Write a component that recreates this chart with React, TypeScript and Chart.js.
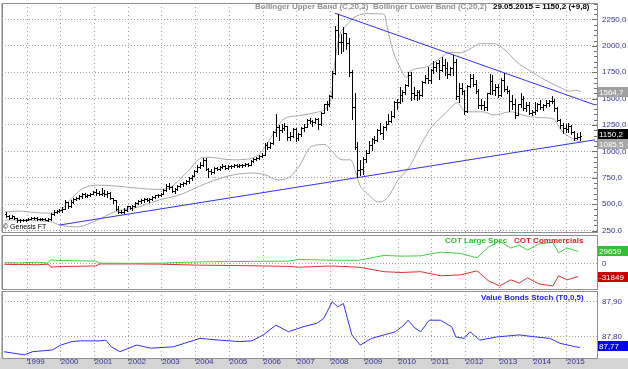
import React, { useEffect, useRef } from "react";
import { Chart, registerables } from "chart.js";

Chart.register(...registerables);

const FONT = "'Liberation Sans', Arial, sans-serif";
const AXIS_COLOR = "#333399";
const GRID_COLOR = "#a0a0a0";

// months counted from Jan 1999 = 0; first bar is May 1998
const START = -8;

const open = [
  405, 385, 370, 385, 365, 345, 350, 348,
  352, 362, 365, 370, 355, 355, 360, 350, 355, 410, 430, 435,
  440, 455, 520, 480, 525, 550, 560, 580, 595, 580, 590, 600,
  615, 605, 600, 610, 600, 610, 555, 535, 455, 430, 425, 440,
  478, 465, 480, 515, 530, 535, 545, 540, 545, 565, 585, 590,
  598, 630, 675, 660, 625, 640, 670, 690, 700, 720, 745, 770,
  810, 855, 870, 915, 830, 815, 800, 840, 830, 850, 860, 845,
  860, 865, 870, 865, 870, 875, 880, 875, 905, 930, 935, 955,
  970, 1065, 1040, 1075, 1180, 1230, 1200, 1225, 1240, 1135, 1150, 1210,
  1125, 1160, 1220, 1235, 1295, 1290, 1275, 1310, 1260, 1365, 1445, 1450,
  1525, 1740, 2150, 2040, 2035, 2120, 2030, 1750, 1420, 1040, 820, 830,
  930, 985, 1060, 1115, 1105, 1200, 1175, 1235, 1260, 1290, 1335, 1470,
  1465, 1530, 1560, 1630, 1720, 1550, 1530, 1560, 1530, 1660, 1700, 1680,
  1770, 1800, 1840, 1770, 1820, 1790, 1730, 1790, 1850, 1520, 1600, 1570,
  1380, 1620, 1700, 1640, 1570, 1440, 1440, 1420, 1550, 1670, 1580, 1610,
  1530, 1680, 1590, 1575, 1480, 1450, 1340, 1445, 1500, 1410, 1440, 1365,
  1370, 1390, 1445, 1420, 1440, 1460, 1475, 1475, 1410, 1300, 1250, 1220,
  1210, 1240, 1185, 1130, 1140.4,
];
const high = [
  425, 395, 395, 390, 370, 360, 360, 360,
  370, 375, 380, 375, 365, 370, 365, 365, 420, 440, 445, 450,
  470, 540, 525, 535, 560, 570, 590, 605, 610, 600, 610, 625,
  640, 625, 655, 630, 625, 615, 560, 540, 480, 445, 460, 485,
  485, 490, 525, 540, 545, 555, 560, 555, 575, 590, 600, 605,
  640, 690, 705, 670, 650, 680, 700, 710, 730, 755, 780, 820,
  870, 900, 935, 940, 845, 830, 850, 855, 865, 880, 870, 870,
  875, 880, 885, 880, 885, 890, 890, 920, 940, 945, 965, 985,
  1075, 1085, 1090, 1190, 1350, 1250, 1255, 1270, 1245, 1180, 1220, 1225,
  1175, 1230, 1260, 1305, 1320, 1300, 1320, 1320, 1375, 1450, 1475, 1535,
  1760, 2190, 2300, 2110, 2180, 2125, 2075, 1775, 1555, 1090, 920, 950,
  1010, 1100, 1130, 1150, 1210, 1270, 1245, 1290, 1350, 1380, 1480, 1495,
  1610, 1580, 1640, 1750, 1750, 1610, 1580, 1580, 1665, 1720, 1800, 1785,
  1860, 1850, 1870, 1890, 1880, 1845, 1800, 1915, 1880, 1650, 1650, 1580,
  1630, 1735, 1730, 1680, 1590, 1500, 1480, 1555, 1730, 1720, 1640, 1635,
  1700, 1740, 1620, 1580, 1530, 1500, 1450, 1550, 1525, 1470, 1470, 1390,
  1470, 1455, 1485, 1450, 1490, 1490, 1520, 1500, 1420, 1305, 1270, 1260,
  1270, 1250, 1190, 1175, 1185,
];
const low = [
  378, 360, 365, 355, 335, 335, 340, 340,
  345, 355, 358, 350, 345, 350, 345, 340, 350, 400, 420, 425,
  425, 450, 465, 475, 510, 540, 550, 560, 570, 565, 580, 595,
  590, 585, 590, 580, 570, 545, 510, 445, 420, 415, 420, 435,
  455, 445, 475, 505, 515, 525, 530, 525, 540, 560, 570, 575,
  595, 620, 640, 615, 610, 630, 660, 675, 690, 705, 730, 765,
  805, 840, 860, 820, 760, 790, 795, 820, 820, 840, 830, 835,
  845, 850, 855, 850, 855, 860, 860, 870, 895, 915, 925, 945,
  965, 1020, 1030, 1070, 1150, 1110, 1180, 1200, 1110, 1105, 1140, 1100,
  1105, 1150, 1190, 1230, 1270, 1240, 1270, 1210, 1250, 1360, 1390, 1430,
  1510, 1735, 1920, 1930, 1955, 1970, 1710, 1305, 1020, 760, 780, 790,
  900, 980, 1015, 1080, 1100, 1160, 1115, 1200, 1255, 1280, 1330, 1400,
  1460, 1480, 1545, 1620, 1490, 1500, 1490, 1500, 1520, 1650, 1650, 1650,
  1740, 1760, 1690, 1760, 1720, 1700, 1720, 1720, 1500, 1470, 1540, 1350,
  1375, 1610, 1615, 1550, 1415, 1405, 1390, 1390, 1540, 1545, 1530, 1515,
  1525, 1570, 1550, 1380, 1400, 1320, 1340, 1420, 1390, 1380, 1355, 1340,
  1355, 1385, 1405, 1390, 1420, 1430, 1460, 1385, 1290, 1220, 1175, 1180,
  1180, 1160, 1110, 1120, 1105,
];
const close = [
  385, 370, 385, 365, 345, 350, 348, 352,
  362, 365, 370, 355, 355, 360, 350, 355, 410, 430, 435, 440,
  455, 520, 480, 525, 550, 560, 580, 595, 580, 590, 600, 615,
  605, 600, 610, 600, 610, 555, 535, 455, 430, 425, 440, 478,
  465, 480, 515, 530, 535, 545, 540, 545, 565, 585, 590, 598,
  630, 675, 660, 625, 640, 670, 690, 700, 720, 745, 770, 810,
  855, 870, 915, 830, 815, 800, 840, 830, 850, 860, 845, 860,
  865, 870, 865, 870, 875, 880, 875, 905, 930, 935, 955, 970,
  1065, 1040, 1075, 1180, 1230, 1200, 1225, 1240, 1135, 1150, 1210, 1125,
  1160, 1220, 1235, 1295, 1290, 1275, 1310, 1260, 1365, 1445, 1450, 1525,
  1740, 2150, 2040, 2035, 2120, 2030, 1750, 1420, 1040, 820, 830, 930,
  985, 1060, 1115, 1105, 1200, 1175, 1235, 1260, 1290, 1335, 1470, 1465,
  1530, 1560, 1630, 1720, 1550, 1530, 1560, 1530, 1660, 1700, 1680, 1770,
  1800, 1840, 1770, 1820, 1790, 1730, 1790, 1850, 1520, 1600, 1570, 1380,
  1620, 1700, 1640, 1570, 1440, 1440, 1420, 1550, 1670, 1580, 1610, 1530,
  1680, 1590, 1575, 1480, 1450, 1340, 1445, 1500, 1410, 1440, 1365, 1370,
  1390, 1445, 1420, 1440, 1460, 1475, 1475, 1410, 1300, 1250, 1220, 1210,
  1240, 1185, 1130, 1140.4, 1150.2,
];

// Bollinger bands, x in months from Jan 1999
const upperX = [-8, -3, 3, 8, 12, 16, 20, 25, 30, 38, 46, 50, 57, 62, 64, 73, 78, 83, 88, 91, 97, 103, 108, 109, 111, 113, 117, 122, 127, 128, 130, 133, 135, 136, 142, 147, 150, 154, 158, 161, 166, 170, 174, 179, 184, 190, 193, 195, 197];
const upperY = [425, 435, 420, 415, 445, 560, 650, 680, 675, 655, 640, 650, 805, 940, 945, 920, 925, 985, 1185, 1300, 1340, 1370, 1490, 1745, 2090, 2175, 2280, 2305, 2300, 2185, 1965, 1775, 1700, 1755, 1800, 1885, 1935, 1935, 1980, 2020, 2020, 1960, 1850, 1760, 1680, 1600, 1570, 1580, 1564.7];
const lowerX = [-8, 8, 12, 18, 25, 31, 40, 47, 54, 64, 73, 80, 85, 89, 93, 97, 101, 106, 108, 112, 115, 117, 118, 121, 125, 128, 132, 136, 141, 144, 149, 153, 156, 162, 166, 172, 176, 182, 187, 190, 194, 197];
const lowerY = [350, 335, 300, 285, 350, 425, 475, 540, 585, 700, 775, 795, 775, 730, 750, 870, 1045, 1065, 1015, 920, 920, 795, 700, 600, 520, 555, 730, 855, 1110, 1235, 1365, 1460, 1375, 1375, 1345, 1375, 1345, 1320, 1310, 1200, 1120, 1085.5];

// trend lines
const upperTrendX = [109.5, 202];
const upperTrendY = [2310, 1440];
const lowerTrendX = [11.5, 202];
const lowerTrendY = [302, 1110];

// COT panel
const cotX = [-8, -3, 4, 7.5, 8.5, 10, 15, 24.5, 26, 37, 47, 61, 76, 93, 97, 108, 118, 127, 133, 140, 147, 154, 160, 164, 168, 172, 175, 178, 182, 187, 189, 192, 196];
const cotLargeSpec = [2000, 1500, 3000, 1000, 9000, 8000, 7000, 6000, 1000, 500, 1000, 4000, 5000, 6000, 10000, 8000, 8000, 20000, 18000, 19000, 28000, 25000, 14000, 40000, 55000, 38000, 45000, 33000, 48000, 52000, 26000, 38000, 29659];
const cotCommercials = [-2000, -2500, -3000, -1500, -9000, -8000, -7000, -6000, -1000, -1000, -1500, -4000, -5000, -7000, -9000, -6000, -9000, -20000, -22000, -20000, -30000, -28000, -18000, -42000, -55000, -40000, -48000, -35000, -50000, -55000, -30000, -40000, -31849];

// Value Bonds Stoch panel
const stochX = [-8.2, -1, 2, 9, 12, 16, 19, 26, 28, 30, 33, 39, 44, 52, 56, 61.5, 68.5, 75.5, 80, 84, 88.5, 93, 98.5, 103, 105.5, 108.5, 110.5, 112.5, 115.5, 118.5, 122.5, 127, 131, 134, 135.5, 138, 140, 143, 147, 151, 152.5, 155.5, 157.5, 161, 167, 175, 181, 186, 189.5, 195, 196.6];
const stochY = [87.758, 87.749, 87.758, 87.763, 87.777, 87.787, 87.789, 87.789, 87.791, 87.772, 87.758, 87.777, 87.768, 87.772, 87.782, 87.796, 87.791, 87.787, 87.789, 87.806, 87.834, 87.815, 87.83, 87.839, 87.853, 87.901, 87.886, 87.896, 87.806, 87.777, 87.796, 87.806, 87.815, 87.834, 87.848, 87.825, 87.815, 87.848, 87.848, 87.829, 87.8, 87.796, 87.815, 87.791, 87.8, 87.806, 87.8, 87.796, 87.782, 87.772, 87.77];

const YEAR_TICKS = [0, 12, 24, 36, 48, 60, 72, 84, 96, 108, 120, 132, 144, 156, 168, 180, 192];
const YEAR_LABELS = ["1999", "2000", "2001", "2002", "2003", "2004", "2005", "2006", "2007", "2008", "2009", "2010", "2011", "2012", "2013", "2014", "2015"];
const PRICE_TICKS = [250, 500, 750, 1000, 1250, 1500, 1750, 2000, 2250];

const X_MIN = -8.89;
const X_MAX = 202.67;

const fmt1 = (v: number) => v.toFixed(1).replace(".", ",");
const fmt2 = (v: number) => v.toFixed(2).replace(".", ",");

const pts = (xs: number[], ys: number[]) => xs.map((x, i) => ({ x, y: ys[i] }));

const xAxis = (labels: boolean): any => ({
  type: "linear",
  min: X_MIN,
  max: X_MAX,
  offset: false,
  afterBuildTicks: (a: any) => {
    a.ticks = YEAR_TICKS.map((v) => ({ value: v }));
  },
  afterFit: (s: any) => {
    s.height = labels ? 11 : 0;
  },
  grid: { color: GRID_COLOR, offset: false, drawTicks: labels, tickLength: 3, tickColor: "#707070" },
  border: { display: false, dash: [1, 3] },
  ticks: {
    display: labels,
    autoSkip: false,
    maxRotation: 0,
    minRotation: 0,
    align: "start",
    padding: 0,
    color: AXIS_COLOR,
    font: { family: FONT, size: 8, lineHeight: 0.25 },
    callback: (v: number) => YEAR_LABELS[YEAR_TICKS.indexOf(v)] ?? "",
  },
});

const yAxis = (min: number, max: number, ticks: number[], fmt: (v: number) => string): any => ({
  position: "right",
  min,
  max,
  afterBuildTicks: (a: any) => {
    a.ticks = ticks.map((v) => ({ value: v }));
  },
  afterFit: (s: any) => {
    s.width = 31;
  },
  grid: { color: GRID_COLOR, drawTicks: true, tickLength: 5, tickColor: "rgba(0,0,0,0)" },
  border: { display: true, color: "#808080", dash: [1, 2] },
  ticks: {
    padding: 0,
    color: AXIS_COLOR,
    font: { family: FONT, size: 8, lineHeight: 0.25 },
    callback: (v: number) => fmt(v),
  },
});

const frame = {
  id: "frame",
  afterDraw(chart: any) {
    const { ctx, chartArea: a } = chart;
    ctx.save();
    ctx.strokeStyle = "#909090";
    ctx.lineWidth = 1;
    ctx.strokeRect(Math.round(a.left) + 0.5, Math.round(a.top) + 0.5, Math.round(a.right - a.left), Math.round(a.bottom - a.top));
    ctx.beginPath();
    ctx.moveTo(Math.round(a.left) - 0.5, a.top);
    ctx.lineTo(Math.round(a.left) - 0.5, a.bottom);
    ctx.strokeStyle = "#c0c0c0";
    ctx.stroke();
    ctx.restore();
  },
};

const axisTicks = {
  id: "axisTicks",
  afterDraw(chart: any, _args: any, opts: any) {
    if (!opts || !opts.step) return;
    const { ctx, chartArea: a, scales } = chart;
    const y = scales.y;
    ctx.save();
    ctx.strokeStyle = "#707070";
    ctx.lineWidth = 1;
    ctx.beginPath();
    for (let v = opts.from; v <= y.max; v += opts.step) {
      const py = Math.round(y.getPixelForValue(v)) + 0.5;
      if (py < a.top || py > a.bottom) continue;
      const major = Math.abs((v - opts.from) % opts.major) < 1e-6;
      const len = major ? 5 : 3;
      ctx.moveTo(a.right - len, py);
      ctx.lineTo(a.right, py);
    }
    ctx.stroke();
    ctx.restore();
  },
};

const valueBoxes = {
  id: "valueBoxes",
  afterDraw(chart: any, _args: any, opts: any) {
    const { ctx, chartArea: a, scales } = chart;
    (opts?.boxes || []).forEach((b: any) => {
      const y = Math.round(scales.y.getPixelForValue(b.value)) + (b.dy || 0);
      ctx.save();
      ctx.fillStyle = b.bg;
      ctx.fillRect(a.right + 1, y - 5, 30, 10);
      ctx.fillStyle = b.color;
      ctx.font = `8px ${FONT}`;
      ctx.textBaseline = "middle";
      ctx.fillText(b.text, a.right + 2, y + 0.5);
      ctx.restore();
    });
  },
};

// crisp OHLC strokes at the positions the bar controller computed
const ohlcDraw = {
  id: "ohlcDraw",
  afterDatasetsDraw(chart: any) {
    const { ctx, scales } = chart;
    const y = scales.y;
    const meta = chart.getDatasetMeta(2);
    ctx.save();
    ctx.beginPath();
    ctx.rect(chart.chartArea.left, chart.chartArea.top, chart.chartArea.right - chart.chartArea.left, chart.chartArea.bottom - chart.chartArea.top);
    ctx.clip();
    ctx.strokeStyle = "#000";
    ctx.lineWidth = 1;
    ctx.beginPath();
    meta.data.forEach((el: any, i: number) => {
      const px = Math.round(el.x);
      const top = Math.round(Math.min(el.y, el.base));
      const bot = Math.round(Math.max(el.y, el.base));
      ctx.moveTo(px + 0.5, top);
      ctx.lineTo(px + 0.5, bot + 1);
      const yo = Math.round(y.getPixelForValue(open[i])) + 0.5;
      const yc = Math.round(y.getPixelForValue(close[i])) + 0.5;
      ctx.moveTo(px - 1, yo);
      ctx.lineTo(px, yo);
      ctx.moveTo(px + 1, yc);
      ctx.lineTo(px + 2, yc);
    });
    ctx.stroke();
    ctx.restore();
  },
};

const baseOptions = {
  responsive: false,
  animation: false as const,
  devicePixelRatio: 1,
  events: [] as any[],
  plugins: { legend: { display: false }, tooltip: { enabled: false } },
};

export default function App() {
  const mainRef = useRef<HTMLCanvasElement>(null);
  const midRef = useRef<HTMLCanvasElement>(null);
  const botRef = useRef<HTMLCanvasElement>(null);

  useEffect(() => {
    const charts: Chart[] = [];

    const wicks = close.map((_, i) => ({ x: START + i + 0.5, y: [low[i], high[i]] }));

    charts.push(
      new Chart(mainRef.current!, {
        type: "bar",
        data: {
          datasets: [
            {
              type: "line",
              data: pts(upperTrendX, upperTrendY),
              borderColor: "#3030ff",
              borderWidth: 1,
              pointRadius: 0,
              order: 1,
            } as any,
            {
              type: "line",
              data: pts(lowerTrendX, lowerTrendY),
              borderColor: "#3030ff",
              borderWidth: 1,
              pointRadius: 0,
              order: 1,
            } as any,
            {
              type: "bar",
              data: wicks,
              backgroundColor: "rgba(0,0,0,0)",
              barThickness: 1,
              grouped: false,
              order: 2,
            } as any,
            {
              type: "line",
              data: pts(upperX, upperY),
              borderColor: "#a8a8a8",
              borderWidth: 1,
              pointRadius: 0,
              cubicInterpolationMode: "monotone",
              order: 3,
            } as any,
            {
              type: "line",
              data: pts(lowerX, lowerY),
              borderColor: "#a8a8a8",
              borderWidth: 1,
              pointRadius: 0,
              cubicInterpolationMode: "monotone",
              order: 3,
            } as any,
          ],
        },
        options: {
          ...baseOptions,
          layout: { padding: { left: 2, top: 3, right: 0, bottom: 1 } },
          scales: {
            x: xAxis(false),
            y: yAxis(236, 2406, PRICE_TICKS, fmt1),
          },
          plugins: {
            ...baseOptions.plugins,
            axisTicks: { from: 250, step: 50, major: 250 },
            valueBoxes: {
              boxes: [
                { value: 1564.7, text: "1564,7", bg: "#a0a0a0", color: "#fff" },
                { value: 1150.2, text: "1150,2", bg: "#000", color: "#fff", dy: -2 },
                { value: 1085.5, text: "1085,5", bg: "#a8a8a8", color: "#fff", dy: 2 },
              ],
            },
          } as any,
        } as any,
        plugins: [frame, axisTicks, ohlcDraw, valueBoxes],
      })
    );

    charts.push(
      new Chart(midRef.current!, {
        type: "line",
        data: {
          datasets: [
            {
              data: pts(cotX, cotLargeSpec),
              borderColor: "#40d040",
              borderWidth: 1,
              pointRadius: 0,
            },
            {
              data: pts(cotX, cotCommercials),
              borderColor: "#e03030",
              borderWidth: 1,
              pointRadius: 0,
            },
          ],
        },
        options: {
          ...baseOptions,
          layout: { padding: { left: 2, top: 2, right: 0, bottom: 1 } },
          scales: {
            x: xAxis(false),
            y: yAxis(-62500, 70000, [0], (v) => String(v)),
          },
          plugins: {
            ...baseOptions.plugins,
            valueBoxes: {
              boxes: [
                { value: 29659, text: "29659", bg: "#30c030", color: "#fff" },
                { value: -31849, text: "-31849", bg: "#cc0000", color: "#fff" },
              ],
            },
          } as any,
        } as any,
        plugins: [frame, valueBoxes],
      })
    );

    charts.push(
      new Chart(botRef.current!, {
        type: "line",
        data: {
          datasets: [
            {
              data: pts(stochX, stochY),
              borderColor: "#3030ff",
              borderWidth: 1,
              pointRadius: 0,
            },
          ],
        },
        options: {
          ...baseOptions,
          layout: { padding: { left: 2, top: 1, right: 0, bottom: 0 } },
          scales: {
            x: xAxis(true),
            y: yAxis(87.74, 87.9314, [87.8, 87.9], fmt2),
          },
          plugins: {
            ...baseOptions.plugins,
            valueBoxes: {
              boxes: [{ value: 87.77, text: "87,77", bg: "#0000ff", color: "#fff", dy: -1 }],
            },
          } as any,
        } as any,
        plugins: [frame, valueBoxes],
      })
    );

    return () => charts.forEach((c) => c.destroy());
  }, []);

  const label = (text: string, left: number, top: number, color: string, bold = true, size = 8) => (
    <span
      style={{
        position: "absolute",
        left,
        top,
        color,
        fontFamily: FONT,
        fontSize: size,
        fontWeight: bold ? "bold" : "normal",
        whiteSpace: "nowrap",
        lineHeight: "10px",
      }}
    >
      {text}
    </span>
  );

  return (
    <div
      style={{
        position: "fixed",
        left: 0,
        top: 0,
        width: 628,
        height: 369,
        background: "#ffffff",
        overflow: "hidden",
      }}
    >
      <div style={{ position: "absolute", left: 0, top: 358, width: 628, height: 11, background: "#d4d4d4" }} />
      <canvas ref={mainRef} width={628} height={233} style={{ position: "absolute", left: 0, top: 0 }} />
      <canvas ref={midRef} width={628} height={57} style={{ position: "absolute", left: 0, top: 233 }} />
      <canvas ref={botRef} width={628} height={79} style={{ position: "absolute", left: 0, top: 290 }} />
      {label("Bollinger Upper Band (C,20,2)", 255, 2, "#909090")}
      {label("Bollinger Lower Band (C,20,2)", 373, 2, "#909090")}
      {label("29.05.2015 = 1150,2 (+9,8)", 493, 2, "#000")}
      {label("© Genesis FT", 3, 222, "#000", false, 7)}
      {label("COT Large Spec", 445, 236, "#30c030")}
      {label("COT Commercials", 514, 236, "#dd2020")}
      {label("Value Bonds Stoch (T0,0,5)", 481, 293, "#2020ff")}
    </div>
  );
}
